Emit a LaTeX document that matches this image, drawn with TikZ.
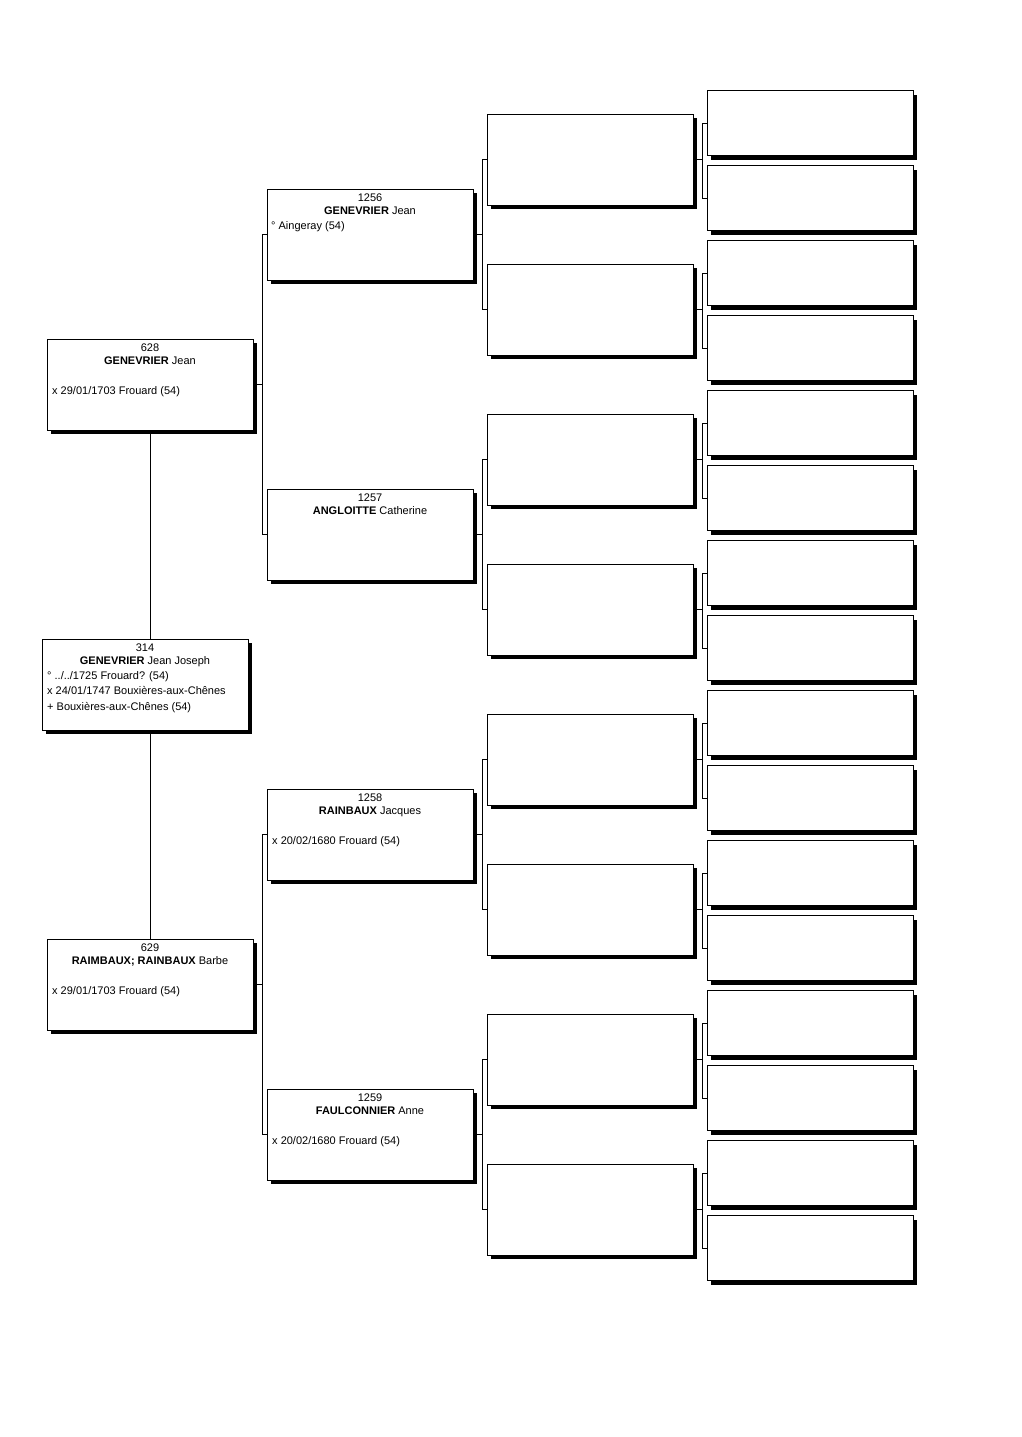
\documentclass[tikz,border=0pt]{standalone}
\usepackage{fontspec}
\setmainfont{Liberation Sans}
\usetikzlibrary{calc,shadows}
\begin{document}
\begin{tikzpicture}[x=1pt,y=-1pt,
  pbox/.style={draw=black, line width=1pt, fill=white, rectangle, anchor=north west,
    inner sep=0pt, outer sep=0pt, minimum width=206pt, minimum height=91pt,
    general shadow={fill=black, shadow xshift=4pt, shadow yshift=-4pt}},
  sbox/.style={pbox, minimum height=65pt},
  link/.style={draw=black, line width=1pt},
  ctext/.style={inner sep=0pt, anchor=base, font=\fontsize{11}{13}\selectfont},
  ltext/.style={inner sep=0pt, anchor=base west, font=\fontsize{11}{13}\selectfont}
]
\useasboundingbox (0,0) rectangle (1022,1437);
\fill[white] (0,0) rectangle (1022,1437);

% generation 1 and root
\node[pbox] (b628) at (47,339) {};
\node[pbox] (b314) at (42,639) {};
\node[pbox] (b629) at (47,939) {};

% generation 2
\node[pbox] (b1256) at (267,189) {};
\node[pbox] (b1257) at (267,489) {};
\node[pbox] (b1258) at (267,789) {};
\node[pbox] (b1259) at (267,1089) {};

% generation 3
\foreach \k in {0,...,7}{
  \node[pbox] (c3-\k) at (487,{114+150*\k}) {};
}
% generation 4
\foreach \k in {0,...,15}{
  \node[sbox] (c4-\k) at (707,{90.5+75*\k}) {};
}

% connectors root
\draw[link] (b628.south) -- (b628.south |- b314.north);
\draw[link] (b629.north |- b314.south) -- (b629.north);

% connectors gen1 -> gen2
\draw[link] (b628.east) -- ++(9,0) |- (b1256.west);
\draw[link] (b628.east) -- ++(9,0) |- (b1257.west);
\draw[link] (b629.east) -- ++(9,0) |- (b1258.west);
\draw[link] (b629.east) -- ++(9,0) |- (b1259.west);

% connectors gen2 -> gen3
\foreach \p/\a/\b in {b1256/0/1, b1257/2/3, b1258/4/5, b1259/6/7}{
  \draw[link] (\p.east) -- ++(9,0) |- (c3-\a.west);
  \draw[link] (\p.east) -- ++(9,0) |- (c3-\b.west);
}
% connectors gen3 -> gen4
\foreach \k in {0,...,7}{
  \pgfmathtruncatemacro{\ka}{2*\k}
  \pgfmathtruncatemacro{\kb}{2*\k+1}
  \draw[link] (c3-\k.east) -- ++(9,0) |- (c4-\ka.west);
  \draw[link] (c3-\k.east) -- ++(9,0) |- (c4-\kb.west);
}

% texts
\node[ctext] (t628a) at ($(b628.north)+(0,12)$) {628};
\node[ctext] (t628b) at ($(b628.north)+(0,25)$) {\textbf{GENEVRIER} Jean};
\node[ltext] (t628c) at ($(b628.north west)+(5,55)$) {x 29/01/1703 Frouard (54)};

\node[ctext] (t314a) at ($(b314.north)+(0,12)$) {314};
\node[ctext] (t314b) at ($(b314.north)+(0,25)$) {\textbf{GENEVRIER} Jean Joseph};
\node[ltext] (t314c) at ($(b314.north west)+(5,40)$) {° ../../1725 Frouard? (54)};
\node[ltext] (t314d) at ($(b314.north west)+(5,55)$) {x 24/01/1747 Bouxières-aux-Chênes};
\node[ltext] (t314e) at ($(b314.north west)+(5,71)$) {+ Bouxières-aux-Chênes (54)};

\node[ctext] (t629a) at ($(b629.north)+(0,12)$) {629};
\node[ctext] (t629b) at ($(b629.north)+(0,25)$) {\textbf{RAIMBAUX; RAINBAUX} Barbe};
\node[ltext] (t629c) at ($(b629.north west)+(5,55)$) {x 29/01/1703 Frouard (54)};

\node[ctext] (t1256a) at ($(b1256.north)+(0,12)$) {1256};
\node[ctext] (t1256b) at ($(b1256.north)+(0,25)$) {\textbf{GENEVRIER} Jean};
\node[ltext] (t1256c) at ($(b1256.north west)+(4,40)$) {° Aingeray (54)};

\node[ctext] (t1257a) at ($(b1257.north)+(0,12)$) {1257};
\node[ctext] (t1257b) at ($(b1257.north)+(0,25)$) {\textbf{ANGLOITTE} Catherine};

\node[ctext] (t1258a) at ($(b1258.north)+(0,12)$) {1258};
\node[ctext] (t1258b) at ($(b1258.north)+(0,25)$) {\textbf{RAINBAUX} Jacques};
\node[ltext] (t1258c) at ($(b1258.north west)+(5,55)$) {x 20/02/1680 Frouard (54)};

\node[ctext] (t1259a) at ($(b1259.north)+(0,12)$) {1259};
\node[ctext] (t1259b) at ($(b1259.north)+(0,25)$) {\textbf{FAULCONNIER} Anne};
\node[ltext] (t1259c) at ($(b1259.north west)+(5,55)$) {x 20/02/1680 Frouard (54)};
\end{tikzpicture}
\end{document}
